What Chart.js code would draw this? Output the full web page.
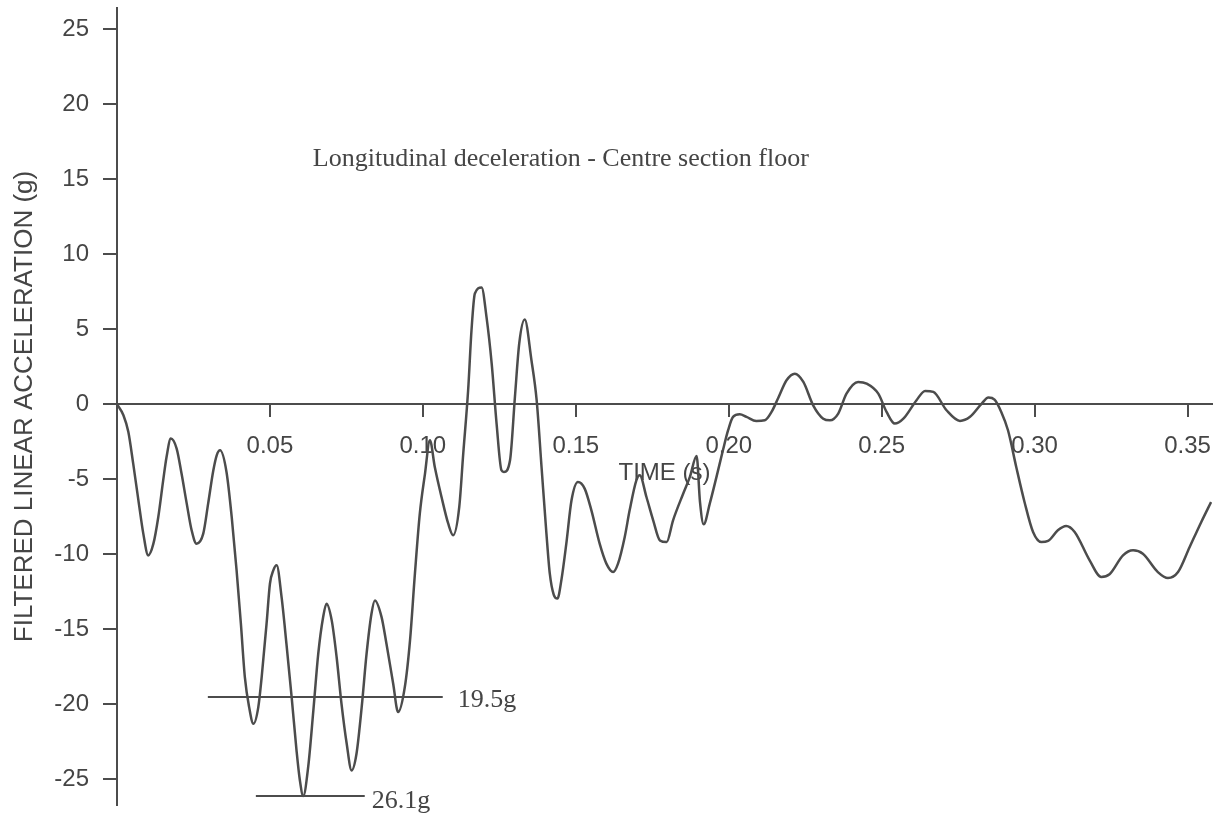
<!DOCTYPE html>
<html>
<head>
<meta charset="utf-8">
<title>Filtered linear acceleration</title>
<script src="https://cdn.jsdelivr.net/npm/chart.js@4/dist/chart.umd.min.js"></script>
<style>
  html, body { margin: 0; padding: 0; background: #ffffff; }
  #wrap { width: 1227px; height: 820px; }
</style>
</head>
<body>
<div id="wrap"><canvas id="chart" width="1227" height="820"></canvas></div>
<script>
// Sampled time (s) and filtered longitudinal acceleration (g)
const timeValues = [
  0.0000, 0.0021, 0.0037, 0.0053, 0.0070, 0.0086, 0.0102, 0.0119, 0.0135, 0.0151,
  0.0162, 0.0176, 0.0195, 0.0211, 0.0228, 0.0244, 0.0260, 0.0282, 0.0298, 0.0315,
  0.0326, 0.0337, 0.0358, 0.0375, 0.0391, 0.0405, 0.0418, 0.0432, 0.0446, 0.0462,
  0.0473, 0.0489, 0.0500, 0.0511, 0.0522, 0.0538, 0.0554, 0.0571, 0.0587, 0.0598,
  0.0609, 0.0625, 0.0642, 0.0658, 0.0674, 0.0685, 0.0702, 0.0718, 0.0734, 0.0751,
  0.0767, 0.0783, 0.0800, 0.0816, 0.0832, 0.0843, 0.0865, 0.0881, 0.0903, 0.0919,
  0.0941, 0.0958, 0.0974, 0.0990, 0.1007, 0.1023, 0.1039, 0.1061, 0.1083, 0.1099,
  0.1119, 0.1132, 0.1148, 0.1159, 0.1170, 0.1192, 0.1208, 0.1225, 0.1241, 0.1257,
  0.1265, 0.1285, 0.1301, 0.1315, 0.1333, 0.1355, 0.1372, 0.1388, 0.1404, 0.1415,
  0.1428, 0.1440, 0.1453, 0.1469, 0.1486, 0.1507, 0.1529, 0.1551, 0.1578, 0.1600,
  0.1622, 0.1638, 0.1660, 0.1676, 0.1698, 0.1709, 0.1731, 0.1753, 0.1775, 0.1797,
  0.1818, 0.1851, 0.1873, 0.1895, 0.1906, 0.1918, 0.1938, 0.1960, 0.1981, 0.1998,
  0.2014, 0.2036, 0.2058, 0.2090, 0.2118, 0.2140, 0.2161, 0.2189, 0.2216, 0.2244,
  0.2276, 0.2309, 0.2331, 0.2358, 0.2385, 0.2423, 0.2451, 0.2489, 0.2516, 0.2543,
  0.2571, 0.2614, 0.2642, 0.2669, 0.2712, 0.2756, 0.2789, 0.2827, 0.2849, 0.2869,
  0.2891, 0.2913, 0.2940, 0.2967, 0.2995, 0.3022, 0.3044, 0.3076, 0.3103, 0.3131,
  0.3180, 0.3218, 0.3245, 0.3289, 0.3322, 0.3354, 0.3403, 0.3436, 0.3469, 0.3507,
  0.3545, 0.3577
];

const accelValues = [
  0.00, -0.73, -1.84, -3.96, -6.40, -8.62, -10.07, -9.29, -7.51, -5.07,
  -3.51, -2.29, -2.96, -4.62, -6.62, -8.40, -9.29, -8.62, -6.62, -4.40,
  -3.40, -3.07, -4.51, -7.51, -11.07, -14.62, -18.18, -20.18, -21.29, -20.18,
  -18.18, -14.62, -11.96, -11.07, -10.73, -12.84, -15.96, -19.51, -23.07, -25.07,
  -26.10, -24.18, -20.40, -16.62, -14.18, -13.29, -14.40, -16.84, -19.96, -22.62,
  -24.40, -23.29, -20.18, -16.62, -13.96, -13.07, -14.18, -15.96, -18.62, -20.51,
  -18.84, -15.73, -11.29, -7.29, -4.62, -2.40, -4.18, -6.18, -7.96, -8.73,
  -6.84, -3.29, 0.93, 4.93, 7.38, 7.78, 5.82, 2.71, -1.29, -4.40,
  -4.51, -3.73, 0.49, 4.04, 5.64, 2.93, 0.27, -4.18, -8.62, -11.29,
  -12.70, -12.95, -11.70, -9.29, -6.40, -5.18, -5.62, -7.07, -9.29, -10.62,
  -11.18, -10.62, -8.84, -7.07, -5.07, -4.73, -6.18, -7.73, -9.07, -9.18,
  -7.73, -5.96, -4.84, -3.45, -6.50, -8.00, -6.62, -4.84, -3.07, -1.73,
  -0.84, -0.67, -0.84, -1.11, -1.07, -0.51, 0.38, 1.60, 2.04, 1.49,
  -0.07, -0.96, -1.07, -0.62, 0.71, 1.49, 1.38, 0.71, -0.51, -1.29,
  -0.96, 0.27, 0.89, 0.82, -0.40, -1.11, -0.84, 0.04, 0.45, 0.31,
  -0.51, -1.73, -4.18, -6.51, -8.51, -9.18, -9.11, -8.40, -8.11, -8.51,
  -10.40, -11.51, -11.33, -10.07, -9.73, -9.96, -11.18, -11.58, -11.18, -9.51,
  -7.84, -6.51
];

// Marked deceleration levels (g) with the time span each marker line covers
const levelLabels = ['19.5g', '26.1g'];
const levelValues = [-19.5, -26.1];
const levelStart = [0.0297, 0.0454];
const levelEnd = [0.1065, 0.0810];

// Axis ranges and tick spacing
const xRange = [0, 0.358];
const yRange = [-26.7, 26.4];
const xStep = 0.05;
const yStep = 5;

// Texts
const captionText = 'Longitudinal deceleration - Centre section floor';
const captionAt = [0.1451, 15.87];
const xTitle = 'TIME (s)';
const yTitle = 'FILTERED LINEAR ACCELERATION (g)';

const INK = '#4c4c4c';
const TEXT = '#454545';
const SANS = '"Liberation Sans", Arial, Helvetica, sans-serif';
const SERIF = '"Liberation Serif", "Times New Roman", serif';

const curvePoints = timeValues.map((t, i) => ({ x: t, y: accelValues[i] }));

const levelDatasets = levelValues.map((v, i) => ({
  label: levelLabels[i],
  data: [{ x: levelStart[i], y: v }, { x: levelEnd[i], y: v }],
  borderColor: INK,
  borderWidth: 2,
  pointRadius: 0,
  tension: 0
}));

// Draws the caption and the level labels, anchored through the chart scales
const textLabels = {
  id: 'textLabels',
  afterDatasetsDraw(chart) {
    const { ctx, scales: { x, y } } = chart;
    ctx.save();
    ctx.fillStyle = TEXT;
    ctx.font = '26px ' + SERIF;
    ctx.textAlign = 'center';
    ctx.textBaseline = 'alphabetic';
    ctx.fillText(captionText, x.getPixelForValue(captionAt[0]), y.getPixelForValue(captionAt[1]));

    ctx.textAlign = 'left';
    const gaps = [15, 7];
    const drops = [10, 12];
    levelLabels.forEach((txt, i) => {
      ctx.fillText(txt,
        x.getPixelForValue(levelEnd[i]) + gaps[i],
        y.getPixelForValue(levelValues[i]) + drops[i]);
    });
    ctx.restore();
  }
};

new Chart(document.getElementById('chart'), {
  type: 'line',
  data: {
    datasets: [
      {
        label: 'Acceleration',
        data: curvePoints,
        borderColor: INK,
        borderWidth: 2.5,
        pointRadius: 0,
        cubicInterpolationMode: 'monotone',
        fill: false
      },
      ...levelDatasets
    ]
  },
  options: {
    responsive: false,
    animation: false,
    devicePixelRatio: 1,
    layout: { padding: { left: 0, top: 8, right: 15, bottom: 15 } },
    plugins: {
      legend: { display: false },
      tooltip: { enabled: false },
      title: { display: false }
    },
    scales: {
      x: {
        type: 'linear',
        position: { y: 0 },
        min: xRange[0],
        max: xRange[1],
        border: { display: true, color: INK, width: 2 },
        grid: { display: true, drawOnChartArea: false, drawTicks: true, tickLength: 12, color: INK, lineWidth: 2 },
        ticks: {
          stepSize: xStep,
          includeBounds: false,
          padding: 16,
          color: TEXT,
          font: { family: SANS, size: 24 },
          maxRotation: 0,
          autoSkip: false,
          callback: (v) => Number(v).toFixed(2)
        },
        title: {
          display: true,
          text: xTitle,
          color: TEXT,
          font: { family: SANS, size: 24 },
          padding: { top: 0, bottom: 4 }
        },
        afterBuildTicks: (scale) => { scale.ticks = scale.ticks.filter(t => t.value > 1e-9); },
        afterFit: (scale) => { scale.paddingLeft = 0; scale.paddingRight = 0; scale.height = 88; }
      },
      y: {
        type: 'linear',
        position: 'left',
        min: yRange[0],
        max: yRange[1],
        border: { display: true, color: INK, width: 2 },
        grid: { display: true, drawOnChartArea: false, drawTicks: true, tickLength: 14, color: INK, lineWidth: 2 },
        ticks: {
          stepSize: yStep,
          includeBounds: false,
          padding: 14,
          color: TEXT,
          font: { family: SANS, size: 24 }
        },
        title: {
          display: true,
          text: yTitle,
          color: TEXT,
          font: { family: SANS, size: 26 },
          padding: { top: 9, bottom: 0 }
        },
        afterFit: (scale) => { scale.width = 117; scale.paddingTop = 0; scale.paddingBottom = 0; }
      }
    }
  },
  plugins: [textLabels]
});
</script>
</body>
</html>
